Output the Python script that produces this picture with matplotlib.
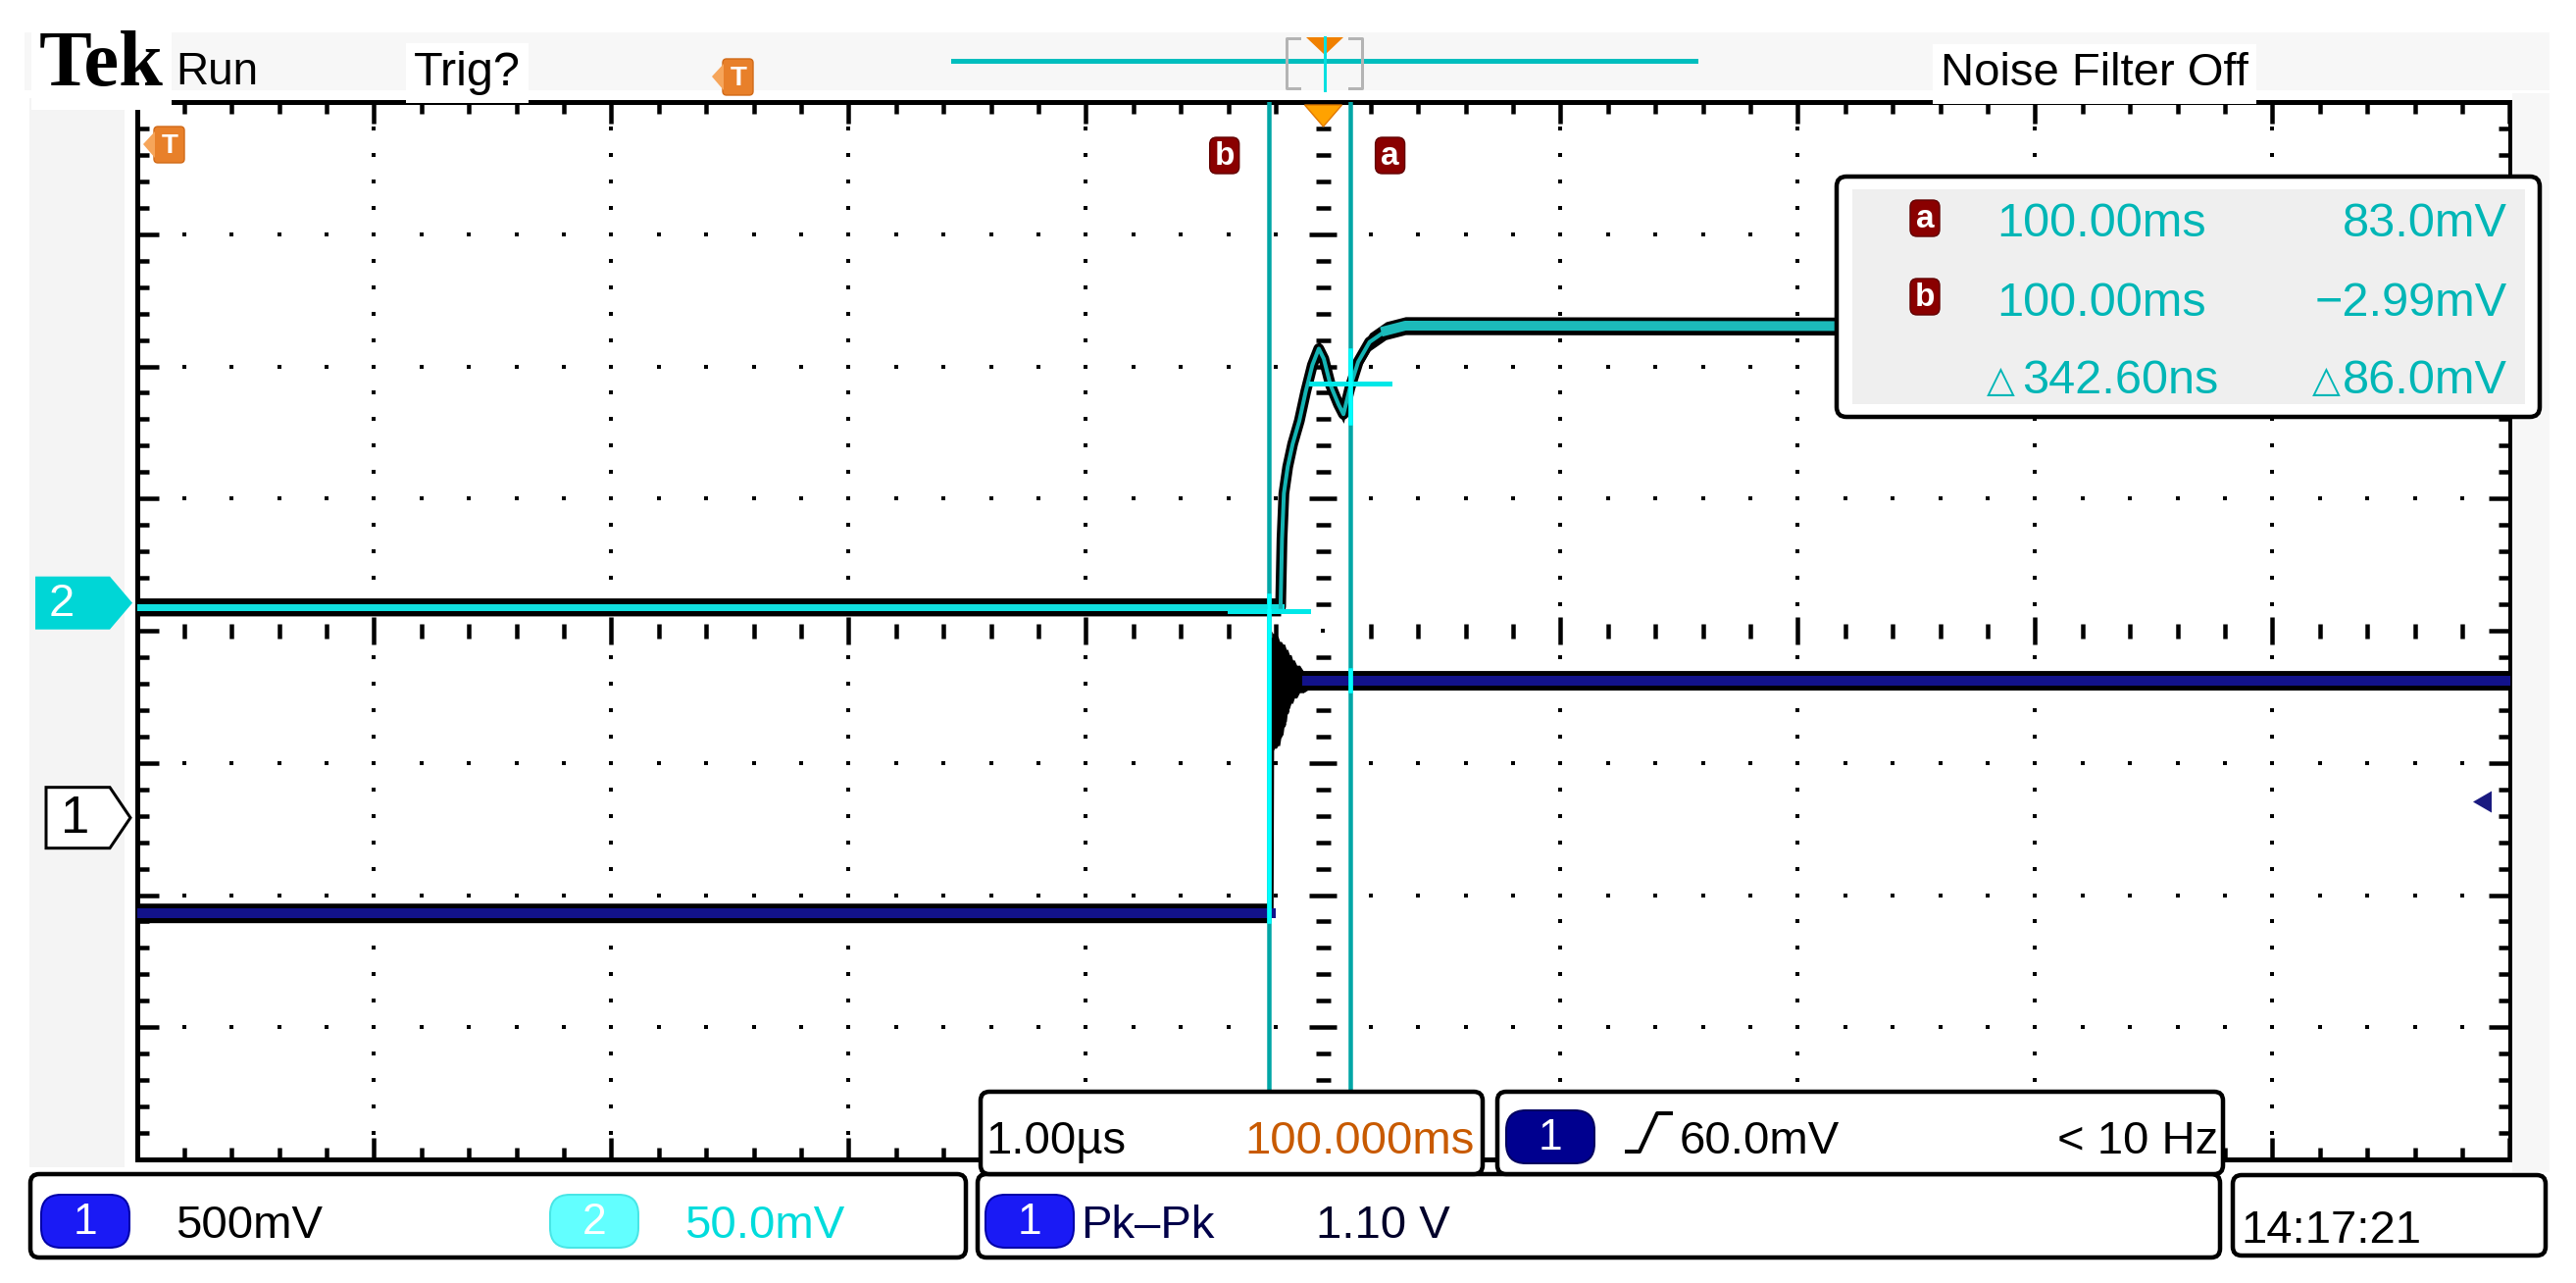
import matplotlib
matplotlib.use("Agg")
import matplotlib.pyplot as plt
import numpy as np
from matplotlib.patches import FancyBboxPatch, Polygon, Rectangle

# ---- waveform data (time in us, 1 us/div) ----
# channel 1, volts (500 mV/div)
ch1_t = [-5.0, -0.222, -0.218, -0.212, -0.205, -0.198, -0.191, -0.184, -0.177, -0.170, -0.163,
         -0.156, -0.150, -0.143, -0.136, -0.129, -0.122, -0.112, -0.100, -0.085, -0.067, 5.0]
ch1_v = [-0.36, -0.36, 0.67, 0.29, 0.66, 0.30, 0.65, 0.31, 0.63, 0.35, 0.62,
         0.40, 0.60, 0.45, 0.58, 0.47, 0.56, 0.49, 0.54, 0.51, 0.52, 0.52]
# channel 2, millivolts (50 mV/div)
ch2_t = [-5.0, -0.180, -0.174, -0.166, -0.150, -0.129, -0.101, -0.074, -0.046, -0.019, 0.002,
         0.030, 0.064, 0.085, 0.112, 0.147, 0.195, 0.264, 0.346, 5.0]
ch2_mv = [-1.5, -1.5, 24.2, 41.5, 51.5, 60.2, 68.9, 80.0, 90.0, 96.2, 92.4,
          82.5, 75.1, 71.4, 81.3, 91.2, 98.7, 103.0, 104.9, 104.5]

ch1_scale = 0.5      # V/div
ch2_scale = 50.0     # mV/div
ch1_ground = -1.415  # div
ch2_ground = 0.21    # div
ch1_noise = 0.037    # V, half band
ch2_noise = 3.4      # mV, half band
trig_level = 0.060   # V

cursor_a = (0.112, 83.0)     # us, mV
cursor_b = (-0.2306, -2.99)

ch1_label = "500mV"
ch2_label = "50.0mV"
timebase = "1.00\u00b5s"
delay = "100.000ms"
trig_label = "60.0mV"
trig_freq = "< 10 Hz"
meas_name = "Pk\u2013Pk"
meas_value = "1.10 V"
clock = "14:17:21"
cursor_time = "100.00ms"

SANS = ['Liberation Sans', 'DejaVu Sans']
SERIF = ['Liberation Serif', 'DejaVu Serif']

W, H = 2627, 1308
PX = 100 / 72.0


def pt(px):
    return px / PX


fig = plt.figure(figsize=(W / 100, H / 100), dpi=100)
fig.patch.set_facecolor('white')

GL, GR, GT, GB = 139.5, 2559.5, 104, 1182
ax = fig.add_axes([GL / W, 1 - GB / H, (GR - GL) / W, (GB - GT) / H])
ax.set_xlim(-5, 5)
ax.set_ylim(-4, 4)
ax.set_facecolor('white')

ov = fig.add_axes([0, 0, 1, 1], zorder=5)
ov.set_xlim(0, W)
ov.set_ylim(H, 0)
ov.axis('off')
ov.patch.set_alpha(0)


def to_ov(t, d):
    return ov.transData.inverted().transform(ax.transData.transform((t, d)))


# ---- graticule ----
ax.set_xticks(np.arange(-5, 6, 1))
ax.set_xticks(np.arange(-5, 5.01, 0.2), minor=True)
ax.set_yticks(np.arange(-4, 5, 1))
ax.set_yticks(np.arange(-4, 4.01, 0.2), minor=True)
ax.tick_params(which='both', direction='in', top=True, right=True, bottom=True, left=True,
               labelbottom=False, labelleft=False, color='black', width=pt(4.5))
ax.tick_params(which='major', length=pt(22))
ax.tick_params(which='minor', length=pt(12))
for s in ax.spines.values():
    s.set_linewidth(pt(5))
    s.set_color('black')

sx = np.round(np.arange(-4.8, 4.81, 0.2), 6)
sy = np.round(np.arange(-3.8, 3.81, 0.2), 6)
dot = dict(ls='none', marker='s', ms=pt(4.5), mew=0, color='black', zorder=1)
for gx in [-4, -3, -2, -1, 1, 2, 3, 4]:
    yy = sy[np.abs(sy) > 1e-6]
    ax.plot(np.full_like(yy, gx), yy, **dot)
for gy in [-3, -2, -1, 1, 2, 3]:
    xx = sx[np.abs(sx) > 1e-6]
    ax.plot(xx, np.full_like(xx, gy), **dot)
xx = sx[(np.abs(sx) > 1e-6) & (np.abs(sx - np.round(sx)) > 1e-6)]
ax.plot(xx, np.zeros_like(xx), ls='none', marker='|', ms=pt(15), mew=pt(4.5), color='black', zorder=1)
ax.plot([-4, -3, -2, -1, 1, 2, 3, 4], [0] * 8, ls='none', marker='|', ms=pt(27), mew=pt(4.5),
        color='black', zorder=1)
yy = sy[(np.abs(sy) > 1e-6) & (np.abs(sy - np.round(sy)) > 1e-6)]
ax.plot(np.zeros_like(yy), yy, ls='none', marker='_', ms=pt(15), mew=pt(4.5), color='black', zorder=1)
ax.plot([0] * 6, [-3, -2, -1, 1, 2, 3], ls='none', marker='_', ms=pt(27), mew=pt(4.5),
        color='black', zorder=1)
ax.plot([0], [0], **dot)

# ---- traces ----
t1 = np.array(ch1_t)
y1 = np.array(ch1_v) / ch1_scale + ch1_ground
n1 = ch1_noise / ch1_scale
ax.fill_between(t1, y1 - n1, y1 + n1, color='black', lw=0, zorder=3)
# fill the ringing envelope between consecutive swings
ring = slice(2, len(t1) - 1)
hi = np.maximum(y1[ring], y1[3:]) + n1
lo = np.minimum(y1[ring], y1[3:]) - n1
ax.fill_between(t1[ring], lo, hi, color='black', lw=0, zorder=3)
ax.plot(t1, y1, color='black', lw=pt(6), zorder=3)
ax.plot(t1[:2], y1[:2], color='#12128a', lw=pt(10), zorder=4)
ax.plot(t1[-2:], y1[-2:], color='#12128a', lw=pt(10), zorder=4)

t2 = np.array(ch2_t)
y2 = np.array(ch2_mv) / ch2_scale + ch2_ground
n2 = ch2_noise / ch2_scale
ax.fill_between(t2, y2 - n2, y2 + n2, color='black', lw=0, zorder=4)
ax.plot(t2, y2, color='black', lw=pt(11), zorder=4)
ax.plot(t2[:2], y2[:2], color='#10dede', lw=pt(7), zorder=5)
ax.plot(t2[1:-2], y2[1:-2], color='#14b4b4', lw=pt(4), zorder=5)
ax.plot(t2[-3:], y2[-3:], color='#1cbaba', lw=pt(10), zorder=5)

# ---- cursors ----
for ct, cv in (cursor_a, cursor_b):
    cy = cv / ch2_scale + ch2_ground
    ax.axvline(ct, color='#00a6a6', lw=pt(4.5), zorder=6)
    ax.plot([ct - 0.165, ct + 0.165], [cy, cy], color='#00e8e8', lw=pt(5), zorder=6)
ya = cursor_a[1] / ch2_scale + ch2_ground
yb = cursor_b[1] / ch2_scale + ch2_ground
ax.plot([cursor_b[0]] * 2, [yb + 0.12, y1[0] - 0.06], color='#00ffff', lw=pt(4.5), zorder=6)
ax.plot([cursor_a[0]] * 2, [ya + 0.25, ya - 0.3], color='#00ffff', lw=pt(4.5), zorder=6)
ax.plot([cursor_a[0]] * 2, [y1[-1] + 0.08, y1[-1] - 0.08], color='#00ffff', lw=pt(4.5), zorder=6)

# ---- surrounding chrome ----
ov.add_patch(Rectangle((25, 33), 2575, 59, fc='#f7f7f7', ec='none', zorder=0))
ov.add_patch(Rectangle((30, 100), 97, 1090, fc='#f4f4f4', ec='none', zorder=0))
ov.add_patch(Rectangle((2562, 95), 38, 1100, fc='#f7f7f7', ec='none', zorder=0))

wbg = dict(facecolor='white', edgecolor='none', pad=6)
ov.text(40, 87, "Tek", family=SERIF, fontweight='bold', fontsize=58, va='baseline', bbox=wbg)
ov.text(179, 86, "Run", family=SANS, fontsize=33, va='baseline')
ov.text(422, 87, "Trig?", family=SANS, fontsize=35, va='baseline', bbox=wbg)
ov.text(1979, 87, "Noise Filter Off", family=SANS, fontsize=34, va='baseline', bbox=wbg)


def trig_badge(x0, y0):
    ov.add_patch(FancyBboxPatch((x0 + 11, y0), 31, 37, boxstyle='round,pad=0,rounding_size=4',
                                fc='#e8802a', ec='#d06a18', lw=1, zorder=7))
    ov.add_patch(Polygon([(x0, y0 + 18), (x0 + 12, y0 + 5), (x0 + 12, y0 + 32)],
                         fc='#f6a55a', ec='none', zorder=7))
    ov.text(x0 + 27, y0 + 20, "T", color='white', fontsize=20, fontweight='bold', family=SANS,
            ha='center', va='center', zorder=8)


trig_badge(726, 60)
trig_badge(146, 129)

# top record bar
ov.plot([972, 1729], [62, 62], color='#00bebe', lw=pt(5), zorder=6)
ov.plot([1325, 1312, 1312, 1325], [39, 39, 90, 90], color='#b4b4b4', lw=pt(3), zorder=6)
ov.plot([1376, 1389, 1389, 1376], [39, 39, 90, 90], color='#b4b4b4', lw=pt(3), zorder=6)
ov.add_patch(Polygon([(1332, 38), (1370, 38), (1351, 56)], fc='#f08000', ec='none', zorder=7))
ov.plot([1350.6, 1350.6], [38, 92], color='#00e0e0', lw=pt(3), zorder=8)

# trigger position marker on graticule
tx, ty = to_ov(0, 4)
ov.add_patch(Polygon([(tx - 19, ty + 3), (tx + 19, ty + 3), (tx, ty + 25)], fc='#ffa200', ec='#e07800',
                     lw=1, zorder=7))


def cursor_badge(x, y, letter):
    ov.add_patch(FancyBboxPatch((x - 15, y - 18), 30, 37, boxstyle='round,pad=0,rounding_size=7',
                                fc='#8a0000', ec='#600000', lw=1, zorder=7))
    ov.text(x, y + 1, letter, color='white', fontsize=24, fontweight='bold', family=SANS,
            ha='center', va='center', zorder=8)


bx, _ = to_ov(cursor_b[0], 0)
axx, _ = to_ov(cursor_a[0], 0)
cursor_badge(bx - 45, 158, 'b')
cursor_badge(axx + 41, 158, 'a')

# ground markers
_, p2 = to_ov(-5, ch2_ground)
ov.add_patch(Polygon([(36, p2 - 27), (112, p2 - 27), (135, p2), (112, p2 + 27), (36, p2 + 27)],
                     fc='#00d6d6', ec='none', zorder=7))
ov.text(63, p2 + 1, "2", color='white', fontsize=34, family=SANS, ha='center', va='center', zorder=8)
_, p1 = to_ov(-5, ch1_ground)
ov.add_patch(Polygon([(47, p1 - 31), (112, p1 - 31), (133, p1), (112, p1 + 31), (47, p1 + 31)],
                     fc='white', ec='black', lw=pt(3), zorder=7))
ov.text(77, p1 + 1, "1", color='black', fontsize=38, family=SANS, ha='center', va='center', zorder=8)

# trigger level marker on right
_, pt_trig = to_ov(5, trig_level / ch1_scale + ch1_ground)
ov.add_patch(Polygon([(2522, pt_trig), (2541, pt_trig - 11), (2541, pt_trig + 11)],
                     fc='#1a1a80', ec='none', zorder=7))

# cursor readout box
ov.add_patch(FancyBboxPatch((1873, 180), 717, 245, boxstyle='round,pad=0,rounding_size=10',
                            fc='white', ec='black', lw=pt(4.5), zorder=7))
ov.add_patch(Rectangle((1889, 193), 686, 219, fc='#efefef', ec='none', zorder=7))
cyan_txt = '#00b6b6'
cursor_badge(1963, 222, 'a')
cursor_badge(1963, 302, 'b')
rd = dict(family=SANS, fontsize=35, color=cyan_txt, va='baseline', zorder=8)
ov.text(2036, 241, cursor_time, **rd)
ov.text(2036, 322, cursor_time, **rd)
ov.text(2557, 241, f"{cursor_a[1]:.1f}mV", ha='right', **rd)
ov.text(2557, 322, f"{cursor_b[1]:.2f}mV".replace('-', '\u2212'), ha='right', **rd)
dt_ns = (cursor_a[0] - cursor_b[0]) * 1000
dv = cursor_a[1] - cursor_b[1]
ov.text(2062, 401, f"{dt_ns:.2f}ns", **rd)
ov.text(2557, 401, f"{dv:.1f}mV", ha='right', **rd)
for dx in (2026, 2358):
    ov.text(dx, 399, "\u25b3", family=['DejaVu Sans'], fontsize=27, color=cyan_txt,
            va='baseline', fontweight='bold', zorder=8)


# bottom status boxes
def tek_box(x0, y0, x1, y1, z=7):
    ov.add_patch(FancyBboxPatch((x0, y0), x1 - x0, y1 - y0, boxstyle='round,pad=0,rounding_size=9',
                                fc='white', ec='black', lw=pt(4.5), zorder=z))


def ch_badge(cx, cy, num, fc, ec):
    ov.add_patch(FancyBboxPatch((cx - 45, cy - 27), 90, 54, boxstyle='round,pad=0,rounding_size=20',
                                fc=fc, ec=ec, lw=pt(2), zorder=9))
    ov.text(cx, cy + 2, num, color='white', fontsize=32, family=SANS, ha='center', va='center',
            zorder=10)


tek_box(31, 1197, 985, 1282)
tek_box(997, 1197, 2264, 1282)
tek_box(2277, 1198, 2596, 1280)
tek_box(1000, 1113, 1512, 1197, z=8)
tek_box(1527, 1113, 2267, 1197, z=8)

bt = dict(family=SANS, fontsize=34, va='baseline', zorder=10)
ch_badge(87, 1245, "1", '#1a1af5', '#0000a8')
ov.text(179, 1262, ch1_label, color='black', **bt)
ch_badge(606, 1245, "2", '#62ffff', '#48e6e6')
ov.text(698, 1262, ch2_label, color='#00dcdc', **bt)
ch_badge(1050, 1245, "1", '#1a1af5', '#0000a8')
ov.text(1102, 1262, meas_name, color='#00004a', **bt)
ov.text(1342, 1262, meas_value, color='#00002a', **bt)
ov.text(2285, 1267, clock, color='black', **bt)

ov.text(1005, 1176, timebase, color='black', **bt)
ov.text(1504, 1176, delay, color='#c85a00', ha='right', **bt)
ch_badge(1581, 1159, "1", '#00008f', '#000060')
ov.plot([1659, 1672, 1690, 1704], [1174, 1174, 1135, 1135], color='black', lw=pt(4), zorder=10)
ov.text(1713, 1176, trig_label, color='black', **bt)
ov.text(2262, 1176, trig_freq, color='black', ha='right', **bt)

fig.savefig("out.png", dpi=100, facecolor='white')
